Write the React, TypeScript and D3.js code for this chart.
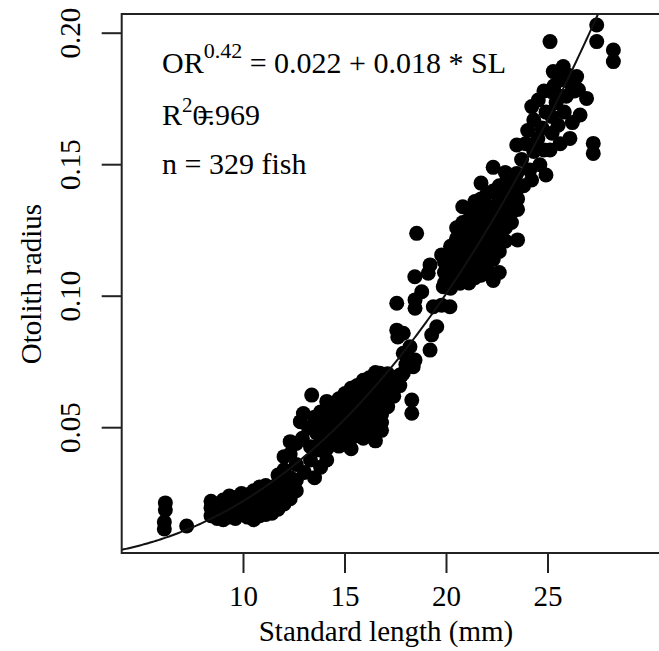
import React from 'react';
import * as d3 from 'd3';

// Axis ticks
const xTicks = [10, 15, 20, 25];
const yTicks = [0.05, 0.1, 0.15, 0.2];
const yTickLabels = ['0.05', '0.10', '0.15', '0.20'];

// Fitted model: OR^0.42 = 0.022 + 0.018 * SL
const fitA = 0.022;
const fitB = 0.018;
const fitPower = 0.42;

const smallest: [number, number][] = [
  [6.1, 0.0115], [6.1, 0.0141], [6.15, 0.0187], [6.15, 0.0214], [7.2, 0.0126],
];

const juveniles: [number, number][] = [
  [8.4, 0.0165], [8.4, 0.0195], [8.4, 0.022],
  [8.7, 0.0155], [8.7, 0.018], [8.7, 0.021],
  [9.0, 0.015], [9.0, 0.0175], [9.0, 0.02], [9.0, 0.0225],
  [9.3, 0.016], [9.3, 0.019], [9.3, 0.0215], [9.3, 0.024],
  [9.6, 0.0155], [9.6, 0.0185], [9.6, 0.021], [9.6, 0.0235],
  [9.9, 0.017], [9.9, 0.02], [9.9, 0.0225], [9.9, 0.025],
  [10.2, 0.016], [10.2, 0.019], [10.2, 0.0215], [10.2, 0.0245],
  [10.5, 0.015], [10.5, 0.018], [10.5, 0.0205], [10.5, 0.023], [10.5, 0.026],
  [10.8, 0.0165], [10.8, 0.0195], [10.8, 0.022], [10.8, 0.0255], [10.8, 0.0275],
  [11.1, 0.017], [11.1, 0.02], [11.1, 0.023], [11.1, 0.026], [11.1, 0.028],
  [11.4, 0.0175], [11.4, 0.021], [11.4, 0.024], [11.4, 0.027],
  [11.7, 0.019], [11.7, 0.0225], [11.7, 0.026], [11.7, 0.029], [11.7, 0.032],
  [12.0, 0.021], [12.0, 0.025], [12.0, 0.028], [12.0, 0.034],
  [12.3, 0.023], [12.3, 0.027], [12.3, 0.031], [12.3, 0.04],
  [12.6, 0.026], [12.6, 0.03], [12.6, 0.036], [12.6, 0.044],
];

const transition: [number, number][] = [
  [12.0, 0.039], [12.3, 0.0447], [12.8, 0.0523], [12.95, 0.0554], [13.36, 0.0624],
  [13.3, 0.0428], [13.77, 0.0415], [14.1, 0.0377], [13.3, 0.0377], [13.0, 0.033],
  [13.5, 0.031], [13.8, 0.035], [13.6, 0.048], [13.2, 0.05], [12.9, 0.046], [13.5, 0.054],
];

const midSize: [number, number][] = [
  [13.8, 0.044], [13.8, 0.047], [13.8, 0.05], [13.8, 0.053], [13.8, 0.056],
  [14.1, 0.042], [14.1, 0.045], [14.1, 0.048], [14.1, 0.051], [14.1, 0.054], [14.1, 0.057], [14.1, 0.06],
  [14.4, 0.044], [14.4, 0.047], [14.4, 0.05], [14.4, 0.053], [14.4, 0.056], [14.4, 0.059],
  [14.7, 0.043], [14.7, 0.046], [14.7, 0.049], [14.7, 0.052], [14.7, 0.055], [14.7, 0.058], [14.7, 0.061],
  [15.0, 0.045], [15.0, 0.048], [15.0, 0.051], [15.0, 0.054], [15.0, 0.057], [15.0, 0.06], [15.0, 0.063],
  [15.3, 0.042], [15.3, 0.046], [15.3, 0.049], [15.3, 0.052], [15.3, 0.055], [15.3, 0.058], [15.3, 0.061], [15.3, 0.065],
  [15.6, 0.047], [15.6, 0.05], [15.6, 0.053], [15.6, 0.056], [15.6, 0.059], [15.6, 0.062], [15.6, 0.066],
  [15.9, 0.046], [15.9, 0.049], [15.9, 0.052], [15.9, 0.055], [15.9, 0.058], [15.9, 0.061], [15.9, 0.064], [15.9, 0.068],
  [16.2, 0.048], [16.2, 0.051], [16.2, 0.054], [16.2, 0.057], [16.2, 0.06], [16.2, 0.063], [16.2, 0.066], [16.2, 0.069],
  [16.5, 0.045], [16.5, 0.05], [16.5, 0.053], [16.5, 0.056], [16.5, 0.059], [16.5, 0.062], [16.5, 0.065], [16.5, 0.068], [16.5, 0.071],
  [16.8, 0.049], [16.8, 0.052], [16.8, 0.055], [16.8, 0.058], [16.8, 0.061], [16.8, 0.064], [16.8, 0.067], [16.8, 0.07],
  [17.1, 0.058], [17.1, 0.061], [17.1, 0.064], [17.1, 0.067], [17.1, 0.0705],
  [17.4, 0.062], [17.4, 0.065], [17.4, 0.069],
  [17.7, 0.066], [17.7, 0.07],
];

const scattered: [number, number][] = [
  [16.72, 0.0707], [17.87, 0.0707], [17.79, 0.07], [18.0, 0.074], [18.36, 0.0732],
  [18.45, 0.0757], [17.87, 0.0783], [18.2, 0.0808], [17.55, 0.0871], [17.87, 0.0859],
  [17.6, 0.0845], [19.27, 0.0853], [19.19, 0.0795], [19.52, 0.0884], [18.29, 0.0605],
  [18.29, 0.0555],
  [18.53, 0.1239], [19.76, 0.1157], [19.19, 0.1119], [19.1, 0.1087], [18.44, 0.1074],
  [18.78, 0.1017], [18.45, 0.0986], [18.45, 0.0954], [17.55, 0.0973], [19.84, 0.1036],
  [19.35, 0.096], [20.17, 0.096], [19.76, 0.0966], [20.67, 0.1049], [20.5, 0.1074],
];

const largeSize: [number, number][] = [
  [19.9, 0.105], [19.9, 0.109], [19.9, 0.113],
  [20.2, 0.103], [20.2, 0.107], [20.2, 0.111], [20.2, 0.115], [20.2, 0.119],
  [20.5, 0.11], [20.5, 0.114], [20.5, 0.118], [20.5, 0.122], [20.5, 0.126],
  [20.8, 0.108], [20.8, 0.112], [20.8, 0.116], [20.8, 0.12], [20.8, 0.124], [20.8, 0.128], [20.8, 0.134],
  [21.1, 0.105], [21.1, 0.109], [21.1, 0.113], [21.1, 0.117], [21.1, 0.121], [21.1, 0.125], [21.1, 0.129], [21.1, 0.133],
  [21.4, 0.107], [21.4, 0.111], [21.4, 0.115], [21.4, 0.119], [21.4, 0.123], [21.4, 0.127], [21.4, 0.131], [21.4, 0.136],
  [21.7, 0.108], [21.7, 0.112], [21.7, 0.116], [21.7, 0.12], [21.7, 0.124], [21.7, 0.128], [21.7, 0.132], [21.7, 0.137], [21.7, 0.143],
  [22.0, 0.11], [22.0, 0.114], [22.0, 0.118], [22.0, 0.122], [22.0, 0.126], [22.0, 0.13], [22.0, 0.134], [22.0, 0.139],
  [22.3, 0.106], [22.3, 0.114], [22.3, 0.118], [22.3, 0.122], [22.3, 0.126], [22.3, 0.13], [22.3, 0.134], [22.3, 0.14], [22.3, 0.149],
  [22.6, 0.109], [22.6, 0.117], [22.6, 0.121], [22.6, 0.125], [22.6, 0.129], [22.6, 0.133], [22.6, 0.137], [22.6, 0.142],
  [22.9, 0.121], [22.9, 0.126], [22.9, 0.13], [22.9, 0.134], [22.9, 0.138], [22.9, 0.143], [22.9, 0.147],
  [23.2, 0.128], [23.2, 0.132], [23.2, 0.136], [23.2, 0.14], [23.2, 0.145],
  [23.5, 0.1214], [23.5, 0.133], [23.5, 0.137], [23.5, 0.141],
  [24.19, 0.1442], [24.9, 0.1461],
];

const largest: [number, number][] = [
  [23.4, 0.146], [23.46, 0.1575], [23.46, 0.1467], [23.7, 0.152], [23.8, 0.142],
  [23.9, 0.158], [24.0, 0.163], [24.1, 0.148], [24.2, 0.1721], [24.3, 0.155],
  [24.3, 0.167], [24.52, 0.1746], [24.5, 0.16], [24.6, 0.15], [24.7, 0.164],
  [24.8, 0.1556], [24.9, 0.17], [25.1, 0.1556], [25.18, 0.1683], [25.2, 0.162],
  [25.1, 0.1968], [25.18, 0.1778], [25.26, 0.1854], [25.4, 0.1736], [25.5, 0.165],
  [25.59, 0.1822], [25.6, 0.158], [25.75, 0.1873], [25.8, 0.17], [25.9, 0.176],
  [26.08, 0.16], [26.1, 0.181], [26.2, 0.166], [26.41, 0.1835], [26.5, 0.1785],
  [26.58, 0.1689], [26.9, 0.1752], [27.23, 0.1581], [27.23, 0.1543], [27.4, 0.1968],
  [27.4, 0.2031], [28.22, 0.1936], [28.22, 0.1892], [25.3, 0.18], [25.6, 0.176],
  [26.0, 0.184], [26.3, 0.178], [24.8, 0.178],
];

const fish = [...smallest, ...juveniles, ...transition, ...midSize, ...scattered, ...largeSize, ...largest];

const font = "'Liberation Serif', 'DejaVu Serif', serif";

const App = () => {
  const plot = { left: 121.7, top: 14, bottom: 553, right: 700 };
  const x = d3.scaleLinear().domain([4, 31]).range([121.7, 669.8]);
  const y = d3.scaleLinear().domain([0, 0.2]).range([559.2, 33.2]);

  // fitted curve, drawn across the plotted range
  const curve = d3.range(4, 31.01, 0.1).map(sl => [sl, Math.pow(fitA + fitB * sl, 1 / fitPower)] as [number, number]);
  const line = d3.line<[number, number]>().x(d => x(d[0])).y(d => y(d[1]));

  return (
    <svg width={659} height={651} style={{ position: 'absolute', left: 0, top: 0, background: '#fff', fontFamily: font }}>
      <defs>
        <clipPath id="plotClip">
          <rect x={plot.left} y={plot.top} width={plot.right - plot.left} height={plot.bottom - plot.top} />
        </clipPath>
      </defs>
      <rect width={659} height={651} fill="#fff" />

      <g clipPath="url(#plotClip)">
        {fish.map((d, i) => (
          <circle key={i} cx={x(d[0])} cy={y(d[1])} r={7.5} fill="#000" />
        ))}
        <path d={line(curve) || ''} fill="none" stroke="#111" strokeWidth={2} />
      </g>

      {/* box */}
      <rect x={plot.left} y={plot.top} width={plot.right - plot.left} height={plot.bottom - plot.top}
        fill="none" stroke="#222" strokeWidth={2} />

      {/* x axis */}
      {xTicks.map(t => (
        <g key={t}>
          <line x1={x(t)} x2={x(t)} y1={plot.bottom} y2={plot.bottom + 20} stroke="#222" strokeWidth={2} />
          <text x={x(t)} y={606} fontSize={29} textAnchor="middle">{t}</text>
        </g>
      ))}
      <text x={386} y={641} fontSize={29} textAnchor="middle">Standard length (mm)</text>

      {/* y axis */}
      {yTicks.map((t, i) => (
        <g key={t}>
          <line x1={plot.left - 20} x2={plot.left} y1={y(t)} y2={y(t)} stroke="#222" strokeWidth={2} />
          <text transform={`translate(80,${y(t)}) rotate(-90)`} fontSize={29} textAnchor="middle">{yTickLabels[i]}</text>
        </g>
      ))}
      <text transform={`translate(41,284) rotate(-90)`} fontSize={29} textAnchor="middle">Otolith radius</text>

      {/* annotation */}
      <g fontSize={30} style={{ whiteSpace: 'pre' }}>
        <text x={162} y={73}>
          OR<tspan dy={-15} fontSize={22}>0.42</tspan><tspan dy={15}> = 0.022 + 0.018 * SL</tspan>
        </text>
        <text x={162} y={125}>
          R<tspan dy={-13} fontSize={21}>2</tspan><tspan dy={13}>0.969</tspan>
        </text>
        <text x={197} y={125}>=</text>
        <text x={162} y={174}>n = 329 fish</text>
      </g>
    </svg>
  );
};

export default App;
